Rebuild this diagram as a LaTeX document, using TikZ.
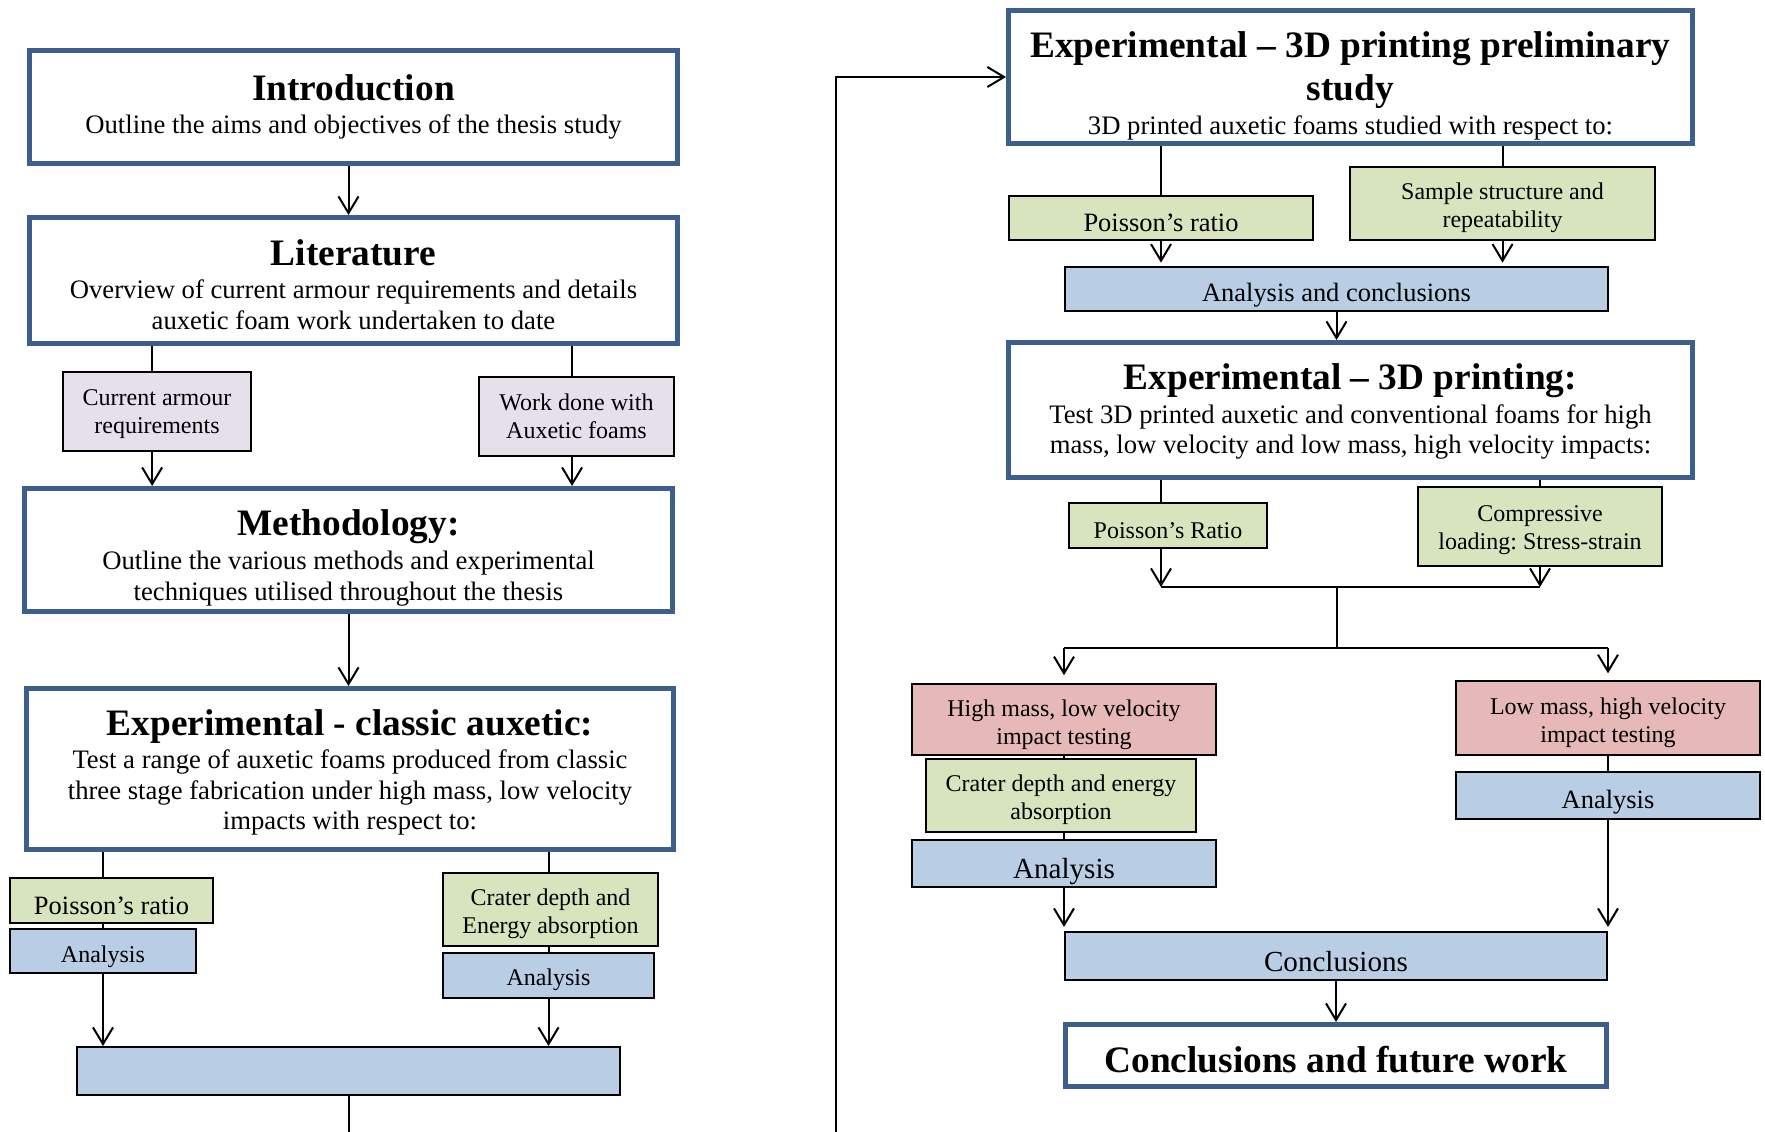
\documentclass[tikz,border=0pt]{standalone}
\usepackage{fontspec}
\setmainfont{Liberation Serif}
\usepackage{tikz}
\usetikzlibrary{arrows.meta}
\frenchspacing

\definecolor{frameblue}{HTML}{3C5F8E}
\definecolor{boxgreen}{HTML}{D7E4BD}
\definecolor{boxblue}{HTML}{B9CDE5}
\definecolor{boxpink}{HTML}{E6B9B8}
\definecolor{boxlilac}{HTML}{E5E0EC}

\newcommand{\titlesz}{\fontsize{16.8}{19.3}\selectfont\bfseries}
\newcommand{\bodysz}{\fontsize{12}{13.7}\selectfont}
\newcommand{\smallsz}{\fontsize{10.8}{12.6}\selectfont}
\newcommand{\medsz}{\fontsize{11.9}{13.7}\selectfont}
\newcommand{\largesz}{\fontsize{13.1}{15}\selectfont}

\begin{document}
\begin{tikzpicture}[
        x=0.45pt, y=-0.45pt,
        >={Straight Barb[length=7.5pt,width=9pt]},
        lower/.style={text height={\the\dimexpr\ht\pgfnodeparttextbox+2\dimexpr#1\relax\relax}},
        chapter/.style={draw=frameblue, line width=2.25pt, fill=white, align=center, inner sep=0pt, font=\bodysz},
        task/.style={draw=black, line width=0.9pt, align=center, inner sep=0pt, font=\smallsz, lower=2.3pt},
        link/.style={line width=0.9pt},
    ]
        \useasboundingbox (0,0) rectangle (1765,1132);

        % left column
        \node[chapter, minimum width=291.6pt, minimum height=50.85pt] (intro) at (353.5,107)
            {{\titlesz Introduction}\\[1.5pt]Outline the aims and objectives of the thesis study};
        \node[chapter, lower=1.8pt, minimum width=291.6pt, minimum height=56.7pt] (lit) at (353.5,280.5)
            {{\titlesz Literature}\\[1.5pt]Overview of current armour requirements and details\\auxetic foam work undertaken to date};
        \node[task, lower=1pt, fill=boxlilac, minimum width=84.6pt, minimum height=35.55pt] (armour) at (157,411.5)
            {Current armour\\requirements};
        \node[task, lower=0pt, fill=boxlilac, minimum width=87.75pt, minimum height=35.55pt] (workdone) at (576.5,416.5)
            {Work done with\\Auxetic foams};
        \node[chapter, lower=3.6pt, minimum width=291.6pt, minimum height=55.35pt] (method) at (348.5,550)
            {{\titlesz Methodology:}\\[1.5pt]Outline the various methods and experimental\\techniques utilised throughout the thesis};
        \node[chapter, lower=1.5pt, minimum width=291.15pt, minimum height=72.45pt] (classic) at (350,769)
            {{\titlesz Experimental - classic auxetic:}\\[1.5pt]Test a range of auxetic foams produced from classic\\three stage fabrication under high mass, low velocity\\impacts with respect to:};
        \node[task, lower=2.5pt, fill=boxgreen, font=\medsz, minimum width=91.35pt, minimum height=20.25pt] (poisL) at (111.5,900.5)
            {Poisson's ratio};
        \node[task, lower=2.5pt, fill=boxblue, minimum width=83.7pt, minimum height=19.8pt] (anaL) at (103,951)
            {Analysis};
        \node[task, lower=2pt, fill=boxgreen, minimum width=96.75pt, minimum height=32.85pt] (craterL) at (550.5,909.5)
            {Crater depth and\\Energy absorption};
        \node[task, lower=2pt, fill=boxblue, minimum width=94.95pt, minimum height=20.25pt] (anaR) at (548.5,975.5)
            {Analysis};
        \node[task, fill=boxblue, minimum width=244.35pt, minimum height=21.6pt] (summary) at (348.5,1071) {};

        \draw[link, ->] (intro.south -| method) -- (method |- lit.north);
        \draw[link] ([xshift=-2.2pt]armour.north |- lit.south) -- ([xshift=-2.2pt]armour.north);
        \draw[link] ([xshift=-2pt]workdone.north |- lit.south) -- ([xshift=-2pt]workdone.north);
        \draw[link, ->] ([xshift=-2.2pt]armour.south) -- ([xshift=-2.2pt]armour.south |- method.north);
        \draw[link, ->] ([xshift=-2pt]workdone.south) -- ([xshift=-2pt]workdone.south |- method.north);
        \draw[link, ->] (method) -- (method |- classic.north);
        \draw[link] (classic.south -| anaL) -- (anaL |- poisL.north);
        \draw[link] (anaL |- poisL.south) -- (anaL);
        \draw[link, ->] (anaL) -- (anaL |- summary.north);
        \draw[link] (classic.south -| anaR) -- (anaR |- craterL.north);
        \draw[link] (anaR |- craterL.south) -- (anaR);
        \draw[link, ->] (anaR) -- (anaR |- summary.north);

        % loop over to the right column
        \coordinate (loopstart) at (348.5,1132);
        \coordinate (loopend) at (836,1132);
        \draw[link] (summary) -- (loopstart);

        % right column
        \node[chapter, lower=3.8pt, minimum width=307.8pt, minimum height=59.85pt] (prelim) at (1350.5,77)
            {{\titlesz Experimental -- 3D printing preliminary}\\[3.1pt]{\titlesz study}\\[1.5pt]3D printed auxetic foams studied with respect to:};
        \node[task, lower=2pt, fill=boxgreen, font=\medsz, minimum width=136.8pt, minimum height=19.8pt] (poisR1) at (1161,218)
            {Poisson's ratio};
        \node[task, lower=1.8pt, fill=boxgreen, minimum width=137.25pt, minimum height=32.85pt] (sample) at (1502.5,203.5)
            {Sample structure and\\repeatability};
        \node[task, lower=3pt, fill=boxblue, font=\medsz, minimum width=244.35pt, minimum height=19.8pt] (anaconc) at (1336.5,289)
            {Analysis and conclusions};
        \node[chapter, lower=0.75pt, minimum width=307.8pt, minimum height=60.75pt] (printing) at (1350.5,410)
            {{\titlesz Experimental -- 3D printing:}\\[1.5pt]Test 3D printed auxetic and conventional foams for high\\mass, low velocity and low mass, high velocity impacts:};
        \node[task, lower=2.5pt, fill=boxgreen, minimum width=89.1pt, minimum height=20.25pt] (poisR2) at (1168,525.5)
            {Poisson's Ratio};
        \node[task, lower=1.5pt, fill=boxgreen, minimum width=109.8pt, minimum height=35.55pt] (compress) at (1540,526.5)
            {Compressive\\loading: Stress-strain};
        \node[task, fill=boxpink, minimum width=136.8pt, minimum height=31.95pt] (high) at (1064,719.5)
            {High mass, low velocity\\impact testing};
        \node[task, lower=2pt, fill=boxgreen, minimum width=121.5pt, minimum height=32.85pt] (craterR) at (1061,795.5)
            {Crater depth and energy\\absorption};
        \node[task, lower=3.5pt, fill=boxblue, font=\largesz, minimum width=136.8pt, minimum height=21.15pt] (anaLL) at (1064,863.5)
            {Analysis};
        \node[task, fill=boxpink, minimum width=136.8pt, minimum height=33.3pt] (low) at (1608,718)
            {Low mass, high velocity\\impact testing};
        \node[task, lower=3pt, fill=boxblue, font=\medsz, minimum width=136.8pt, minimum height=21.15pt] (anaRR) at (1608,795.5)
            {Analysis};
        \node[task, lower=2.5pt, fill=boxblue, font=\largesz, minimum width=243.9pt, minimum height=21.6pt] (concl) at (1336,956)
            {Conclusions};
        \node[chapter, lower=2pt, font=\titlesz, minimum width=243.45pt, minimum height=27.9pt] (future) at (1336,1055.5)
            {Conclusions and future work};

        \draw[link, ->] (loopend) |- (prelim.west);
        \draw[link] (prelim.south -| poisR1) -- (poisR1);
        \draw[link] (prelim.south -| sample) -- (sample);
        \draw[link, ->, shorten >=1.5pt] (poisR1) -- (poisR1 |- anaconc.north);
        \draw[link, ->, shorten >=1.5pt] (sample) -- (sample |- anaconc.north);
        \draw[link, ->] (anaconc) -- (anaconc |- printing.north);
        \draw[link] (poisR1 |- printing.south) -- (poisR1 |- poisR2.north);
        \draw[link] (printing.south -| compress) -- (compress);

        \coordinate (join) at (1337,587);
        \coordinate (split) at (1337,648);
        \draw[link, ->] (poisR1 |- poisR2.south) -- (poisR1 |- join);
        \draw[link, ->] (compress) -- (compress |- join);
        \draw[link] (poisR1 |- join) -- (compress |- join);
        \draw[link] (join) -- (split);
        \draw[link] (high |- split) -- (low |- split);
        \draw[link, ->, shorten >=3.5pt] (high |- split) -- (high);
        \draw[link, ->, shorten >=3pt] (low |- split) -- (low);

        \draw[link] (high) -- (high |- craterR.north);
        \draw[link] (high |- craterR.south) -- (anaLL);
        \draw[link] (low) -- (anaRR);
        \draw[link, ->, shorten >=1.8pt] (anaLL) -- (anaLL |- concl.north);
        \draw[link, ->, shorten >=1.8pt] (anaRR) -- (anaRR |- concl.north);
        \draw[link, ->] (concl) -- (concl |- future.north);
\end{tikzpicture}
\end{document}
